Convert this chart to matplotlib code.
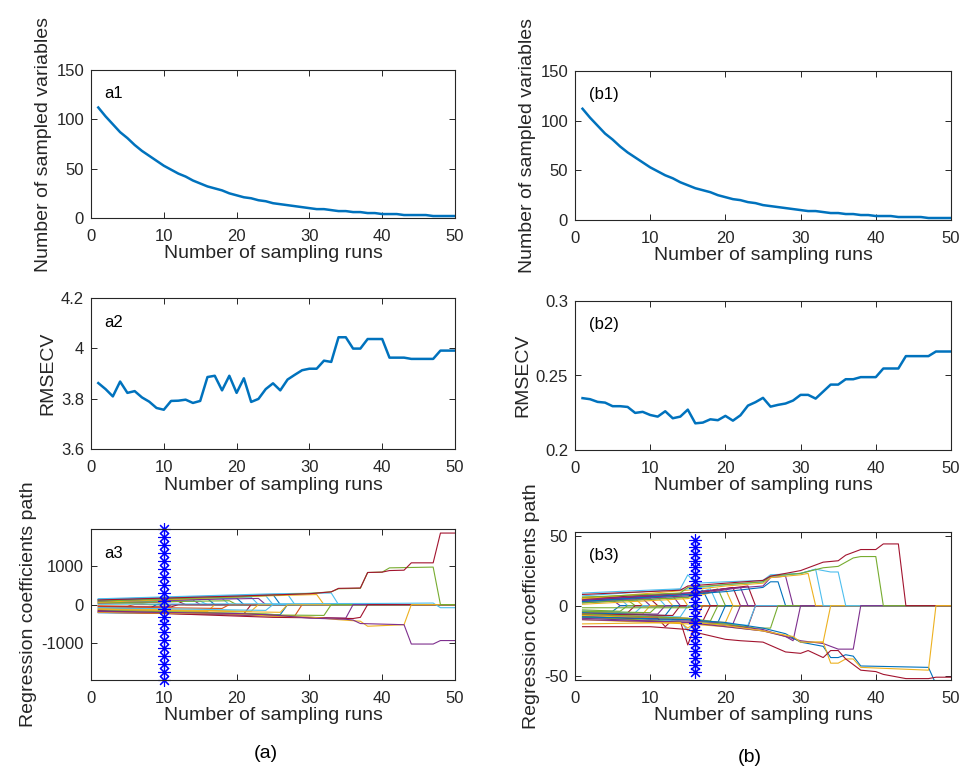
import numpy as np
import matplotlib
matplotlib.use("Agg")
import matplotlib.pyplot as plt
from matplotlib.ticker import FuncFormatter

plt.rcParams["font.family"] = ["Liberation Sans", "DejaVu Sans"]

# MATLAB default colour order
PALETTE = ["#0072BD", "#D95319", "#EDB120", "#7E2F8E", "#77AC30", "#4DBEEE", "#A2142F"]
INK = "#262626"

runs = np.arange(1, 51)

# number of variables kept after each sampling run (same schedule for both sets)
n_vars = [112, 103, 95, 87, 81, 74, 68, 63, 58, 53,
          49, 45, 42, 38, 35, 32, 30, 28, 25, 23,
          21, 20, 18, 17, 15, 14, 13, 12, 11, 10,
          9, 9, 8, 7, 7, 6, 6, 5, 5, 4,
          4, 4, 3, 3, 3, 3, 2, 2, 2, 2]

rmsecv_a = [3.862, 3.838, 3.809, 3.868, 3.823, 3.830, 3.805, 3.788, 3.763, 3.756,
            3.791, 3.792, 3.796, 3.783, 3.791, 3.886, 3.891, 3.833, 3.891, 3.823,
            3.881, 3.787, 3.799, 3.838, 3.861, 3.833, 3.876, 3.895, 3.913, 3.919,
            3.919, 3.951, 3.946, 4.044, 4.044, 3.999, 3.999, 4.037, 4.037, 4.037,
            3.963, 3.963, 3.963, 3.958, 3.958, 3.958, 3.958, 3.991, 3.991, 3.991]

rmsecv_b = [0.2348, 0.2341, 0.2323, 0.2318, 0.2294, 0.2294, 0.2289, 0.2249, 0.2256, 0.2235,
            0.2224, 0.2260, 0.2213, 0.2224, 0.2271, 0.2179, 0.2184, 0.2206, 0.2200, 0.2229,
            0.2197, 0.2233, 0.2298, 0.2321, 0.2350, 0.2291, 0.2303, 0.2312, 0.2332, 0.2370,
            0.2370, 0.2345, 0.2392, 0.2439, 0.2439, 0.2475, 0.2475, 0.2489, 0.2489, 0.2489,
            0.2547, 0.2547, 0.2547, 0.2630, 0.2630, 0.2630, 0.2630, 0.2661, 0.2661, 0.2661]

best_run_a = 10
best_run_b = 16

# coefficient paths: (colour index, runs, coefficient values)
a3_paths = [
    (1, [1, 5, 6, 50], [-30, -40, 0, 0]),
    (4, [1, 7, 8, 50], [20, 30, 0, 0]),
    (0, [1, 8, 9, 50], [-90, -100, 0, 0]),
    (2, [1, 9, 10, 50], [30, 50, 0, 0]),
    (3, [1, 10, 11, 50], [-130, -150, 0, 0]),
    (6, [1, 12, 13, 50], [40, 80, 0, 0]),
    (3, [1, 14, 15, 50], [70, 120, 0, 0]),
    (5, [1, 15, 16, 50], [60, 90, 0, 0]),
    (2, [1, 16, 17, 50], [-140, -180, 0, 0]),
    (0, [1, 16, 17, 50], [130, 150, 0, 0]),
    (5, [1, 18, 19, 50], [120, 160, 0, 0]),
    (4, [1, 19, 20, 50], [50, 100, 0, 0]),
    (0, [1, 20, 21, 50], [110, 170, 0, 0]),
    (6, [1, 21, 22, 50], [-190, -240, 0, 0]),
    (5, [1, 22, 23, 50], [100, 190, 0, 0]),
    (3, [1, 23, 24, 50], [80, 160, 0, 0]),
    (5, [1, 24, 25, 50], [140, 230, 0, 0]),
    (0, [1, 25, 26, 50], [125, 260, 0, 0]),
    (0, [1, 26, 27, 50], [-210, -260, 0, 0]),
    (5, [1, 27, 28, 50], [135, 270, 0, 0]),
    (1, [1, 28, 29, 50], [-200, -290, 0, 0]),
    (2, [1, 25, 31, 32, 50], [60, 230, 260, 0, 0]),
    (5, [1, 25, 33, 34, 50], [150, 280, 300, 0, 0]),
    (6, [1, 11, 12, 50], [-50, -60, 0, 0]),
    (1, [1, 18, 19, 50], [-60, -100, 0, 0]),
    (2, [1, 22, 23, 50], [-100, -170, 0, 0]),
    (5, [1, 24, 25, 50], [-80, -150, 0, 0]),
    (2, [1, 26, 27, 50], [-120, -200, 0, 0]),
    (4, [1, 20, 24, 26, 32, 33, 50], [-150, -220, -240, -270, -280, 0, 0]),
    (3, [1, 25, 30, 35, 36, 50], [-160, -300, -330, -350, 0, 0]),
    (6, [1, 25, 30, 36, 37, 38, 50], [-170, -330, -340, -360, -330, 0, 0]),
    (5, [1, 40, 47, 48, 50], [10, 30, 40, -80, -80]),
    (2, [1, 20, 25, 30, 34, 37, 38, 43, 44, 50],
     [-200, -240, -300, -320, -390, -430, -560, -520, 0, 0]),
    (3, [1, 20, 25, 30, 35, 36, 37, 43, 44, 47, 48, 50],
     [-180, -230, -270, -350, -380, -400, -490, -520, -1020, -1020, -930, -930]),
    (4, [1, 20, 30, 33, 34, 37, 38, 40, 41, 47, 48, 50],
     [90, 200, 290, 330, 410, 420, 830, 840, 950, 970, 0, 0]),
    (6, [1, 20, 30, 33, 34, 37, 38, 40, 41, 43, 44, 47, 48, 50],
     [120, 220, 280, 330, 420, 430, 830, 840, 880, 890, 1080, 1080, 1850, 1850]),
]

b3_paths = [
    (3, [1, 5, 6, 50], [4, 4, 0, 0]),
    (0, [1, 5, 6, 50], [-4, -4, 0, 0]),
    (5, [1, 6, 7, 50], [5, 5, 0, 0]),
    (4, [1, 6, 7, 50], [-3, -4, 0, 0]),
    (4, [1, 7, 8, 50], [3, 4, 0, 0]),
    (6, [1, 7, 8, 50], [-5, -5, 0, 0]),
    (2, [1, 8, 9, 50], [4, 5, 0, 0]),
    (5, [1, 8, 9, 50], [-4, -5, 0, 0]),
    (3, [1, 9, 10, 50], [5, 5, 0, 0]),
    (2, [1, 9, 10, 50], [-5, -6, 0, 0]),
    (6, [1, 10, 11, 50], [4, 5, 0, 0]),
    (4, [1, 10, 11, 50], [-4, -5, 0, 0]),
    (5, [1, 11, 12, 50], [5, 6, 0, 0]),
    (3, [1, 11, 12, 50], [-6, -6, 0, 0]),
    (2, [1, 12, 13, 50], [6, 6, 0, 0]),
    (0, [1, 12, 13, 50], [-5, -7, 0, 0]),
    (3, [1, 13, 14, 50], [5, 7, 0, 0]),
    (6, [1, 13, 14, 50], [-6, -7, 0, 0]),
    (2, [1, 14, 15, 50], [6, 8, 0, 0]),
    (5, [1, 14, 15, 50], [-7, -8, 0, 0]),
    (4, [1, 15, 16, 50], [-1.5, -1.5, 0, 0]),
    (0, [1, 15, 17, 18, 50], [2, 6, 11, 0, 0]),
    (1, [1, 15, 16, 17, 50], [-6, -9, -10, 0, 0]),
    (5, [1, 15, 18, 19, 50], [3, 7, 12, 0, 0]),
    (6, [1, 15, 17, 18, 50], [-7, -10, -11, 0, 0]),
    (4, [1, 15, 19, 20, 50], [2, 6, 12, 0, 0]),
    (4, [1, 15, 18, 19, 50], [-6, -9, -11, 0, 0]),
    (2, [1, 15, 20, 21, 50], [1, 5, 12, 0, 0]),
    (0, [1, 15, 19, 20, 50], [-8, -10, -12, 0, 0]),
    (6, [1, 15, 21, 22, 50], [4, 8, 13, 0, 0]),
    (2, [1, 15, 20, 21, 50], [-7, -10, -12, 0, 0]),
    (3, [1, 15, 22, 23, 50], [3, 7, 13, 0, 0]),
    (3, [1, 15, 21, 22, 50], [-8, -11, -13, 0, 0]),
    (6, [1, 15, 23, 24, 50], [5, 9, 14, 0, 0]),
    (6, [1, 11, 12, 13, 14, 15, 16, 20, 23, 24, 50],
     [-9, -9, -15, -10, -11, -28, -13, -14, -15, 0, 0]),
    (5, [1, 14, 15, 16, 23, 24, 50], [-9, -11, -18, -12, -14, 0, 0]),
    (0, [1, 15, 20, 25, 26, 27, 28, 50], [3, 8, 10, 13, 17, 17, 0, 0]),
    (3, [1, 15, 20, 25, 26, 28, 29, 50], [4, 9, 12, 14, 20, 21, 0, 0]),
    (4, [1, 15, 20, 24, 26, 27, 50], [-8, -12, -13, -16, -16, 0, 0]),
    (3, [1, 15, 20, 25, 28, 29, 30, 50], [-9, -12, -14, -17, -22, -25, 0, 0]),
    (2, [1, 15, 20, 25, 26, 30, 31, 32, 50], [5, 11, 14, 16, 20, 22, 23, 0, 0]),
    (5, [1, 15, 20, 25, 26, 30, 32, 33, 50], [7, 12, 15, 17, 21, 23, 26, 0, 0]),
    (2, [1, 15, 20, 25, 29, 30, 33, 34, 50], [-10, -13, -15, -18, -23, -26, -26, 0, 0]),
    (5, [1, 14, 15, 16, 20, 25, 26, 30, 32, 34, 35, 36, 50],
     [9, 12, 22, 16, 17, 18, 22, 23, 26, 24, 24, 0, 0]),
    (3, [1, 15, 20, 25, 28, 30, 33, 35, 37, 38, 50],
     [-10, -12, -15, -18, -22, -25, -27, -31, -31, 0, 0]),
    (4, [1, 14, 15, 20, 25, 26, 30, 33, 35, 36, 37, 38, 40, 41, 50],
     [6, 9, 13, 15, 17, 21, 23, 27, 28, 31, 34, 35, 35, 0, 0]),
    (6, [1, 14, 15, 20, 25, 26, 30, 31, 33, 35, 36, 37, 38, 40, 41, 43, 44, 50],
     [8, 11, 14, 16, 18, 21, 25, 27, 31, 32, 36, 38, 40, 40, 44, 44, 0, 0]),
    (0, [1, 15, 20, 25, 28, 30, 31, 33, 34, 35, 36, 37, 38, 47, 48, 50],
     [-8, -10, -12, -16, -20, -26, -27, -29, -37, -37, -35, -36, -43, -44, -56, -56]),
    (2, [1, 14, 15, 16, 20, 25, 29, 30, 33, 34, 35, 36, 37, 38, 47, 48, 50],
     [-13, -12, -16, -12, -14, -18, -22, -26, -26, -41, -41, -38, -38, -44, -46, 0, 0]),
    (6, [1, 10, 15, 16, 20, 22, 25, 28, 30, 31, 33, 34, 35, 36, 38, 40, 41, 43, 44, 47, 48, 50],
     [-15, -15, -17, -19, -24, -25, -26, -33, -34, -32, -37, -32, -32, -38, -46, -47, -49, -51,
      -52, -52, -51, -51]),
]

W, H = 960, 767
fig = plt.figure(figsize=(W / 100, H / 100), dpi=100)


def add_axes_px(left, top, right, bottom):
    return fig.add_axes([left / W, 1 - bottom / H, (right - left) / W, (bottom - top) / H])


def style_axes(ax, ylabel, yticks, ylim):
    ax.set_xlim(0, 50)
    ax.set_xticks([0, 10, 20, 30, 40, 50])
    ax.set_ylim(*ylim)
    ax.set_yticks(yticks)
    ax.yaxis.set_major_formatter(FuncFormatter(lambda v, _: f"{v:g}"))
    ax.set_xlabel("Number of sampling runs", fontsize=14, color=INK, labelpad=1)
    ax.set_ylabel(ylabel, fontsize=14, color=INK, labelpad=3)
    ax.tick_params(direction="in", top=True, right=True, length=4, width=0.7,
                   colors=INK, labelsize=12)
    ax.tick_params(axis="x", pad=8)
    ax.tick_params(axis="y", pad=5)
    for sp in ax.spines.values():
        sp.set_color(INK)
        sp.set_linewidth(0.8)


def panel_label(ax, text):
    ax.text(0.037, 0.84, text, transform=ax.transAxes, fontsize=12,
            va="center", ha="left", color="black")


def draw_paths(ax, paths, best_run, ylim):
    for cidx, xs, ys in paths:
        ax.plot(xs, ys, color=PALETTE[cidx], lw=0.8)
    # optimal run marked by a starred vertical line
    star_y = np.linspace(ylim[0], ylim[1], 20)
    ax.plot(np.full_like(star_y, best_run), star_y, color="#0000FF", lw=0.7,
            marker=(8, 2, 0), markersize=9, markeredgewidth=0.8, clip_on=False)


# left column
ax = add_axes_px(91, 70, 455, 218)
ax.plot(runs, n_vars, color=PALETTE[0], lw=1.8)
style_axes(ax, "Number of sampled variables", [0, 50, 100, 150], (0, 150))
panel_label(ax, "a1")

ax = add_axes_px(91, 298, 455, 449)
ax.plot(runs, rmsecv_a, color=PALETTE[0], lw=1.8)
style_axes(ax, "RMSECV", [3.6, 3.8, 4.0, 4.2], (3.6, 4.2))
panel_label(ax, "a2")

ax = add_axes_px(91, 529, 455, 680)
draw_paths(ax, a3_paths, best_run_a, (-1950, 1950))
style_axes(ax, "Regression coefficients path", [-1000, 0, 1000], (-1950, 1955))
panel_label(ax, "a3")

# right column
ax = add_axes_px(575, 71, 951, 220)
ax.plot(runs, n_vars, color=PALETTE[0], lw=1.8)
style_axes(ax, "Number of sampled variables", [0, 50, 100, 150], (0, 150))
panel_label(ax, "(b1)")

ax = add_axes_px(575, 301, 951, 450)
ax.plot(runs, rmsecv_b, color=PALETTE[0], lw=1.8)
style_axes(ax, "RMSECV", [0.2, 0.25, 0.3], (0.2, 0.3))
panel_label(ax, "(b2)")

ax = add_axes_px(575, 532, 951, 680)
draw_paths(ax, b3_paths, best_run_b, (-47, 47))
style_axes(ax, "Regression coefficients path", [-50, 0, 50], (-53, 52.5))
panel_label(ax, "(b3)")

fig.text(266 / W, 1 - 754 / H, "(a)", fontsize=14, color="black", ha="center", va="center")
fig.text(750 / W, 1 - 757 / H, "(b)", fontsize=14, color="black", ha="center", va="center")

fig.savefig("out.png", dpi=100, facecolor="white")
